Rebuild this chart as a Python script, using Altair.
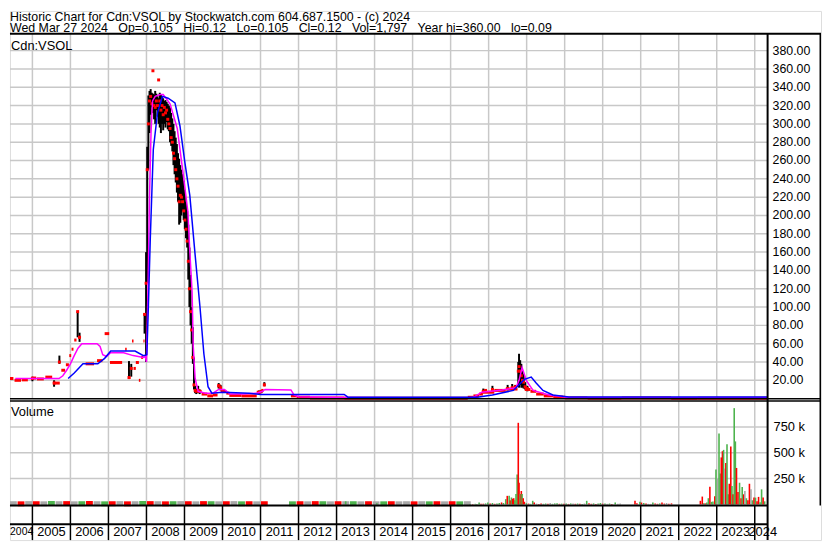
import altair as alt
import pandas as pd

FONT = "Liberation Sans"
GRID = "#c8c8c8"
RED = "#ff0000"
GREEN = "#4db34d"
GRAY = "#a8a8a8"

# ---------------- texts ----------------
header_line1 = "Historic Chart for Cdn:VSOL by Stockwatch.com 604.687.1500 - (c) 2024"
header_items = ["Wed Mar 27 2024", "Op=0.105", "Hi=0.12", "Lo=0.105", "Cl=0.12", "Vol=1,797",
                "Year hi=360.00", "lo=0.09"]
header_line2 = "\u00a0\u00a0\u00a0".join(header_items)
symbol_label = "Cdn:VSOL"
volume_label = "Volume"

# ---------------- axes ----------------
year_lines = list(range(2005, 2025))
year_labels = [str(y) for y in range(2005, 2025)]
year_label_pos = [y + 0.5 for y in range(2005, 2024)] + [2024.21]
first_year_label = "2004"
price_ticks = [20, 40, 60, 80, 100, 120, 140, 160, 180, 200, 220, 240, 260, 280, 300, 320, 340, 360, 380]
vol_ticks = [250000, 500000, 750000]
vol_tick_labels = ["250 k", "500 k", "750 k"]

# ---------------- price: close segments (start, end, close) ----------------
seg_start = [2004.41, 2004.53, 2004.72, 2004.98, 2005.12, 2005.34, 2005.56, 2005.76, 2005.88, 2005.97,
             2006.03, 2006.10, 2006.19, 2006.21, 2006.40, 2006.70, 2006.90, 2007.04, 2007.44, 2007.52,
             2007.62, 2007.66, 2007.72, 2007.80, 2007.86, 2007.92,
             2009.33, 2009.45, 2009.60, 2009.75, 2009.87, 2009.95, 2010.10, 2010.18, 2010.50, 2010.90,
             2011.02, 2011.08, 2011.80, 2011.95, 2012.30, 2013.20,
             2016.45, 2016.60, 2016.75, 2016.85, 2017.15, 2017.45, 2017.95, 2018.10, 2018.25, 2018.45,
             2018.70, 2019.00, 2019.60, 2020.50, 2021.80, 2022.50]
seg_end = [2004.50, 2004.70, 2004.88, 2005.10, 2005.30, 2005.52, 2005.72, 2005.86, 2005.96, 2006.02,
           2006.08, 2006.16, 2006.21, 2006.26, 2006.62, 2006.84, 2007.02, 2007.36, 2007.48, 2007.58,
           2007.66, 2007.72, 2007.80, 2007.84, 2007.91, 2007.95,
           2009.45, 2009.60, 2009.75, 2009.87, 2009.95, 2010.10, 2010.18, 2010.50, 2010.90, 2011.02,
           2011.08, 2011.13, 2011.95, 2012.30, 2013.20, 2016.45,
           2016.60, 2016.75, 2016.85, 2017.15, 2017.45, 2017.76, 2018.10, 2018.25, 2018.45, 2018.70,
           2019.00, 2019.60, 2020.50, 2021.80, 2022.50, 2024.33]
seg_close = [22, 20, 20.5, 22.5, 21.5, 23.5, 17, 31, 37, 47,
             54, 64, 95, 67, 38, 41.5, 71, 39.5, 54, 23,
             63, 33, 39.5, 20, 45, 63,
             8, 5, 3, 4, 14, 8, 6, 3.5, 3, 7,
             9, 15, 3, 1.5, 0.8, 0.4,
             1.5, 3, 5, 7, 9, 10.5, 10, 8, 5, 3,
             1.5, 0.8, 0.5, 0.7, 0.3, 0.4]

# ---------------- price: high-low bars with close ----------------
hl_date = [2005.00, 2005.57, 2005.71, 2006.19, 2006.24, 2007.54, 2007.60, 2007.95, 2007.99, 2008.02,
           2008.05, 2008.08, 2008.11, 2008.14, 2008.17, 2008.20, 2008.23, 2008.26, 2008.29, 2008.32,
           2008.35, 2008.38, 2008.41, 2008.44, 2008.47, 2008.50, 2008.53, 2008.56, 2008.59, 2008.62,
           2008.65, 2008.68, 2008.71, 2008.74, 2008.77, 2008.80, 2008.83, 2008.86, 2008.89, 2008.92,
           2008.95, 2008.98, 2009.01, 2009.04, 2009.07, 2009.10, 2009.13, 2009.16, 2009.19, 2009.22,
           2009.25, 2009.28, 2009.31, 2009.36, 2009.40, 2009.90, 2009.95, 2010.96, 2011.02, 2011.10,
           2016.86, 2016.92, 2017.10, 2017.50, 2017.62, 2017.70, 2017.78, 2017.80, 2017.83, 2017.86,
           2017.89, 2017.92, 2017.96, 2018.02, 2018.92]
hl_low = [19, 13, 38, 67, 62, 22, 24, 71, 40, 126,
          250, 290, 310, 318, 312, 305, 300, 315, 308, 300,
          296, 290, 300, 293, 300, 296, 302, 294, 292, 280,
          276, 270, 255, 245, 236, 225, 215, 190, 192, 200,
          205, 195, 185, 175, 165, 130, 100, 80, 60, 38,
          10, 6, 5, 6, 5, 11, 9, 5, 6, 14,
          6, 7, 8, 9, 10, 11, 14, 12, 15, 12,
          12, 11, 10, 8, 1]
hl_high = [24, 20, 47, 95, 72, 41, 38, 92, 160, 275,
           331, 336, 338, 334, 333, 332, 336, 333, 330, 328,
           334, 332, 330, 328, 325, 326, 324, 322, 320, 318,
           312, 306, 300, 292, 285, 278, 268, 262, 255, 250,
           245, 238, 228, 215, 205, 190, 165, 135, 100, 78,
           45, 14, 11, 14, 10, 17, 15, 9, 9, 18,
           11, 10, 14, 15, 16, 15, 40, 49, 42, 38,
           30, 27, 18, 14, 3]
hl_close = [22, 17, 40, 95, 67, 23, 33, 92, 126, 250,
            300, 325, 330, 322, 358, 320, 318, 325, 320, 348,
            325, 315, 320, 310, 318, 312, 315, 305, 300, 295,
            285, 280, 268, 262, 250, 240, 232, 215, 222, 220,
            215, 205, 195, 185, 172, 150, 120, 95, 75, 45,
            15, 9, 8, 9, 8, 14, 12, 7, 8, 15,
            8, 9, 10, 11, 12, 13, 30, 35, 30, 25,
            20, 18, 13, 11, 1.5]

# ---------------- moving averages ----------------
ma_fast_date = [2004.55, 2005.70, 2005.80, 2005.90, 2006.00, 2006.10, 2006.20, 2006.30, 2006.70, 2006.78,
                2006.85, 2006.95, 2007.05, 2007.40, 2007.65, 2007.92, 2007.97, 2008.00, 2008.04, 2008.08,
                2008.12, 2008.16, 2008.23, 2008.36, 2008.44, 2008.62, 2008.81, 2008.96, 2009.09, 2009.14,
                2009.20, 2009.23, 2009.28, 2009.36, 2009.55, 2009.75, 2009.90, 2010.05, 2010.20, 2010.55,
                2010.90, 2011.05, 2011.12, 2011.80, 2011.88, 2012.00, 2013.20, 2016.40, 2016.60, 2016.82,
                2017.35, 2017.72, 2017.80, 2017.88, 2017.99, 2018.17, 2018.59, 2019.11, 2024.33]
ma_fast = [22, 22, 25, 31, 38, 47, 55, 60, 60, 57,
           48, 46, 50, 50, 47, 45, 46, 40, 120, 220,
           290, 325, 330, 332, 332, 322, 295, 247, 204, 161,
           117, 58, 22, 8, 6, 6, 10, 10, 5, 5,
           6, 8, 10, 9.5, 4, 2, 1.2, 0.6, 1.5, 7,
           9.5, 12, 20, 34, 20, 9, 4, 1.2, 1.0]
ma_slow_date = [2005.94, 2006.10, 2006.33, 2006.72, 2006.90, 2007.06, 2007.70, 2007.92, 2008.01, 2008.05,
                2008.10, 2008.18, 2008.29, 2008.42, 2008.57, 2008.75, 2008.88, 2009.01, 2009.14, 2009.28,
                2009.41, 2009.51, 2009.62, 2009.72, 2010.00, 2010.70, 2011.00, 2013.20, 2013.30, 2016.70,
                2017.10, 2017.65, 2017.94, 2018.12, 2018.25, 2018.43, 2018.69, 2019.11, 2024.33]
ma_slow = [22, 28, 38, 38, 44, 52, 52, 47, 48, 100,
           174, 272, 312, 330, 328, 323, 298, 258, 222, 157,
           99, 49, 13, 6, 7, 6, 4.6, 4.6, 1.6, 1.5,
           4, 9, 21, 23.5, 17, 9, 4, 1.8, 1.8]

# ---------------- volume (thousands of shares) ----------------
qv_start = [2004.41, 2004.61, 2004.81, 2005.01, 2005.21, 2005.41, 2005.61, 2005.81, 2006.01, 2006.21,
            2006.41, 2006.61, 2006.81, 2007.01, 2007.21, 2007.41, 2007.61, 2007.81, 2008.01, 2008.21,
            2008.41, 2008.61, 2008.81, 2009.01, 2009.21, 2009.41, 2009.61, 2009.81, 2010.01, 2010.21,
            2010.41, 2010.61, 2010.81, 2011.01,
            2011.75, 2011.95, 2012.15, 2012.35, 2012.55, 2012.75, 2012.95, 2013.15, 2013.35, 2013.55,
            2013.75, 2013.95, 2014.15, 2014.35, 2014.55, 2014.75, 2014.95, 2015.15, 2015.35, 2015.55,
            2015.75, 2015.95, 2016.15, 2016.35]
qv_val = [7, 6, 8, 7, 6, 9, 7, 8, 6, 7,
          9, 7, 6, 7, 8, 6, 7, 9, 8, 7,
          6, 7, 8, 7, 6, 8, 7, 6, 7, 8,
          6, 7, 6, 7,
          6, 7, 6, 8, 7, 6, 7, 7, 7, 6,
          7, 6, 6, 7, 6, 7, 6, 7, 6, 7,
          6, 7, 6, 7]
qv_dir = ["n", "r", "n", "r", "n", "g", "n", "r", "n", "g",
          "r", "n", "g", "r", "n", "r", "n", "g", "r", "n",
          "r", "g", "n", "r", "n", "r", "g", "n", "r", "n",
          "g", "r", "n", "r",
          "g", "r", "n", "r", "g", "n", "r", "n", "g", "n",
          "r", "n", "g", "r", "n", "n", "r", "n", "g", "r",
          "n", "r", "g", "n"]

av_date = [2013.24, 2014.06,
           2016.51, 2016.58, 2016.65, 2016.69, 2016.75, 2016.80, 2016.86, 2016.92, 2016.98, 2017.04,
           2017.10, 2017.16, 2017.22, 2017.28, 2017.34, 2017.39, 2017.45, 2017.49, 2017.54, 2017.57,
           2017.60, 2017.63, 2017.66, 2017.69, 2017.72, 2017.75, 2017.78, 2017.80, 2017.83, 2017.86,
           2017.88, 2017.91, 2017.94, 2017.99, 2018.05, 2018.10, 2018.16, 2018.20, 2018.26, 2018.32,
           2018.38, 2018.44, 2018.50, 2018.56, 2018.62, 2018.68, 2018.74, 2018.80, 2018.86, 2018.92,
           2018.98, 2019.04, 2019.10, 2019.16, 2019.22, 2019.28, 2019.34, 2019.40, 2019.46, 2019.52,
           2019.58, 2019.64, 2019.70, 2019.76, 2019.82, 2019.88, 2019.94, 2020.00, 2020.06, 2020.12,
           2020.18, 2020.24, 2020.33, 2020.40, 2020.46, 2020.85, 2020.90, 2020.98, 2021.02, 2021.08,
           2021.14, 2021.20, 2021.26, 2021.32, 2021.38, 2021.44, 2021.50, 2021.56, 2021.62, 2021.68,
           2021.74, 2021.81,
           2022.57, 2022.62, 2022.66, 2022.70, 2022.74, 2022.78, 2022.82, 2022.86, 2022.90, 2022.95,
           2022.98, 2023.02, 2023.06, 2023.09, 2023.12, 2023.15, 2023.18, 2023.21, 2023.24, 2023.27,
           2023.30, 2023.33, 2023.37, 2023.40, 2023.43, 2023.46, 2023.49, 2023.52, 2023.56, 2023.60,
           2023.64, 2023.67, 2023.71, 2023.74, 2023.78, 2023.82, 2023.86, 2023.90, 2023.94, 2023.98,
           2024.02, 2024.06, 2024.10, 2024.14, 2024.18, 2024.22, 2024.26]
av_val = [30, 12,
          5, 4, 6, 5, 19, 7, 7, 10, 19, 8,
          14, 6, 9, 14, 19, 14, 51, 83, 83, 40,
          67, 55, 60, 40, 100, 289, 790, 210, 100, 130,
          100, 60, 26, 12, 8, 6, 35, 19, 8, 5,
          10, 6, 9, 7, 14, 6, 10, 12, 6, 8,
          7, 9, 5, 10, 8, 6, 9, 7, 5, 9,
          35, 12, 6, 10, 5, 8, 14, 7, 10, 6,
          9, 5, 19, 6, 8, 35, 12, 25, 18, 14,
          8, 6, 5, 19, 8, 6, 10, 19, 8, 14,
          6, 10,
          35, 76, 12, 10, 19, 60, 172, 25, 28, 80,
          337, 250, 687, 300, 455, 515, 528, 347, 400, 582,
          98, 200, 560, 178, 98, 932, 610, 353, 120, 210,
          60, 169, 98, 130, 60, 40, 200, 146, 40, 66,
          66, 30, 73, 20, 146, 66, 30]
av_dir = ["g", "g",
          "g", "r", "g", "g", "g", "r", "r", "g", "g", "r",
          "g", "r", "g", "g", "r", "g", "g", "r", "g", "r",
          "g", "r", "r", "g", "g", "g", "r", "r", "g", "r",
          "g", "r", "r", "g", "r", "g", "g", "r", "n", "r",
          "r", "g", "g", "r", "n", "g", "g", "g", "r", "g",
          "r", "g", "r", "g", "n", "r", "g", "r", "g", "n",
          "g", "r", "r", "g", "r", "g", "g", "r", "g", "n",
          "g", "r", "g", "n", "n", "r", "r", "g", "r", "g",
          "r", "n", "n", "g", "r", "r", "g", "r", "r", "n",
          "r", "r",
          "r", "r", "g", "r", "g", "g", "r", "g", "g", "r",
          "g", "n", "g", "g", "r", "r", "g", "n", "r", "g",
          "g", "r", "r", "g", "r", "g", "g", "r", "r", "g",
          "r", "g", "r", "n", "g", "r", "r", "n", "g", "r",
          "g", "r", "r", "g", "g", "r", "g"]

# ---------------- frames ----------------
seg_df = pd.DataFrame({"s": seg_start, "e": seg_end, "c": seg_close})
hl_df = pd.DataFrame({"d": hl_date, "lo": hl_low, "hi": hl_high, "cl": hl_close})
maf_df = pd.DataFrame({"d": ma_fast_date, "v": ma_fast})
mas_df = pd.DataFrame({"d": ma_slow_date, "v": ma_slow})
qv_df = pd.DataFrame({"s": qv_start, "v": [v * 1000 for v in qv_val], "dir": qv_dir})
qv_df["e"] = qv_df["s"] + 0.18
av_df = pd.DataFrame({"d": av_date, "v": [v * 1000 for v in av_val], "dir": av_dir})
lab_df = pd.DataFrame({"p": year_label_pos, "l": year_labels})
yl_df = pd.DataFrame({"y": year_lines})
pt_df = pd.DataFrame({"v": price_ticks})
vt_df = pd.DataFrame({"v": vol_ticks, "l": vol_tick_labels})
one = pd.DataFrame({"a": [0]})

# ---------------- layout (pixels inside the single view) ----------------
W, H = 820, 535          # whole drawing
PW = 766                 # plotting width (right axis column after it)
P_TOP, P_BOT = 23, 392   # price panel
V_TOP, V_BOT = 394.5, 500  # volume panel
B_LINE = 519             # line inside the year band
B_TEXT = 527             # year labels

xs = alt.Scale(domain=[2004.41, 2024.338], range=[0, PW], nice=False, zero=False, padding=0)
ps = alt.Scale(domain=[0, 398.5], range=[P_BOT, P_TOP], nice=False, zero=False, padding=0)
vs = alt.Scale(domain=[-10000, 1000000], range=[V_BOT, V_TOP], nice=False, zero=False, padding=0)
dir_scale = alt.Scale(domain=["r", "g", "n"], range=[RED, GREEN, GRAY])

X = lambda f: alt.X(f, scale=xs, axis=None)
YP = lambda f: alt.Y(f, scale=ps, axis=None)
YV = lambda f: alt.Y(f, scale=vs, axis=None)


def hline(y, x1, x2, w=1.5, color="black"):
    return alt.Chart(one).mark_rule(color=color, strokeWidth=w).encode(
        x=alt.value(x1), x2=alt.value(x2), y=alt.value(y))


def vline(x, y1, y2, w=1.5, color="black"):
    return alt.Chart(one).mark_rule(color=color, strokeWidth=w).encode(
        x=alt.value(x), y=alt.value(y1), y2=alt.value(y2))


# grids
pgrid = alt.Chart(pt_df).mark_rule(color=GRID, strokeWidth=1.5).encode(
    x=alt.value(0), x2=alt.value(PW), y=YP("v:Q"))
vgrid = alt.Chart(vt_df).mark_rule(color=GRID, strokeWidth=1.5).encode(
    x=alt.value(0), x2=alt.value(PW), y=YV("v:Q"))
ygrid_p = alt.Chart(yl_df).mark_rule(color=GRID, strokeWidth=1.5).encode(
    x=X("y:Q"), y=alt.value(P_TOP), y2=alt.value(P_BOT))
ygrid_v = alt.Chart(yl_df).mark_rule(color=GRID, strokeWidth=1.5).encode(
    x=X("y:Q"), y=alt.value(V_TOP), y2=alt.value(V_BOT))

# price marks
hl = alt.Chart(hl_df).mark_rule(color="black", strokeWidth=2).encode(
    x=X("d:Q"), y=YP("lo:Q"), y2="hi:Q")
segs = alt.Chart(seg_df).mark_rule(color=RED, strokeWidth=3).encode(
    x=X("s:Q"), x2="e:Q", y=YP("c:Q"))
pts = alt.Chart(hl_df).mark_point(shape="square", filled=True, size=9, color=RED, opacity=1).encode(
    x=X("d:Q"), y=YP("cl:Q"))
maf = alt.Chart(maf_df).mark_line(color="#ff00ff", strokeWidth=1.5).encode(x=X("d:Q"), y=YP("v:Q"))
mas = alt.Chart(mas_df).mark_line(color="#0000ff", strokeWidth=1.5).encode(x=X("d:Q"), y=YP("v:Q"))

# volume marks
qv = alt.Chart(qv_df).mark_bar().encode(
    x=X("s:Q"), x2="e:Q", y=YV("v:Q"),
    color=alt.Color("dir:N", scale=dir_scale, legend=None))
av = alt.Chart(av_df).mark_bar(size=1.6).encode(
    x=X("d:Q"), y=YV("v:Q"),
    color=alt.Color("dir:N", scale=dir_scale, legend=None))

# right-hand axis labels
plab = alt.Chart(pt_df).mark_text(align="left", baseline="middle", font=FONT, fontSize=12.5,
                                  color="black").encode(
    x=alt.value(PW + 5), y=YP("v:Q"), text=alt.Text("v:Q", format=".2f"))
vlabs = alt.Chart(vt_df).mark_text(align="left", baseline="middle", font=FONT, fontSize=13,
                                   color="black").encode(
    x=alt.value(PW + 6), y=YV("v:Q"), text="l:N")

# year band
band_lines = alt.Chart(yl_df).mark_rule(color="black", strokeWidth=1.5).encode(
    x=X("y:Q"), y=alt.value(V_BOT), y2=alt.value(H))
band_text = alt.Chart(lab_df).mark_text(font=FONT, fontSize=13, baseline="middle",
                                        color="black").encode(
    x=X("p:Q"), y=alt.value(B_TEXT), text="l:N")
band_first = alt.Chart(pd.DataFrame({"t": [first_year_label]})).mark_text(
    font=FONT, fontSize=10.5, baseline="middle", align="center", color="black").encode(
    x=alt.value(11.8), y=alt.value(B_TEXT), text="t:N")

# texts
h1 = alt.Chart(pd.DataFrame({"t": [header_line1]})).mark_text(
    align="left", baseline="alphabetic", font=FONT, fontSize=12.5, color="black").encode(
    text="t:N", x=alt.value(0), y=alt.value(10))
h2 = alt.Chart(pd.DataFrame({"t": [header_line2]})).mark_text(
    align="left", baseline="alphabetic", font=FONT, fontSize=12.5, color="black").encode(
    text="t:N", x=alt.value(0), y=alt.value(21.8))
sym = alt.Chart(pd.DataFrame({"t": [symbol_label]})).mark_text(
    align="left", baseline="alphabetic", font=FONT, fontSize=13, color="black").encode(
    text="t:N", x=alt.value(1), y=alt.value(40))
vlab = alt.Chart(pd.DataFrame({"t": [volume_label]})).mark_text(
    align="left", baseline="alphabetic", font=FONT, fontSize=13, color="black").encode(
    text="t:N", x=alt.value(1), y=alt.value(410))

# frame
frame = [
    hline(P_TOP, 0, W, 2),
    hline(P_BOT, 0, W, 1.5),
    hline(V_TOP, 0, W, 1.5),
    hline(V_BOT, 0, PW, 2),
    hline(B_LINE, 0, PW, 2),
    vline(PW, P_TOP, H, 2),
    vline(W - 0.75, P_TOP, V_BOT, 1.5),
]

chart = alt.layer(
    pgrid, vgrid, ygrid_p, ygrid_v,
    qv, av,
    hl, segs, pts, maf, mas,
    band_lines, band_text, band_first,
    *frame,
    plab, vlabs, h1, h2, sym, vlab,
).resolve_scale(y="independent").properties(
    width=W, height=H, padding=0
).configure_view(stroke=None).configure(background="white")

chart.save("out.html", embed_options={"renderer": "svg", "actions": False})
